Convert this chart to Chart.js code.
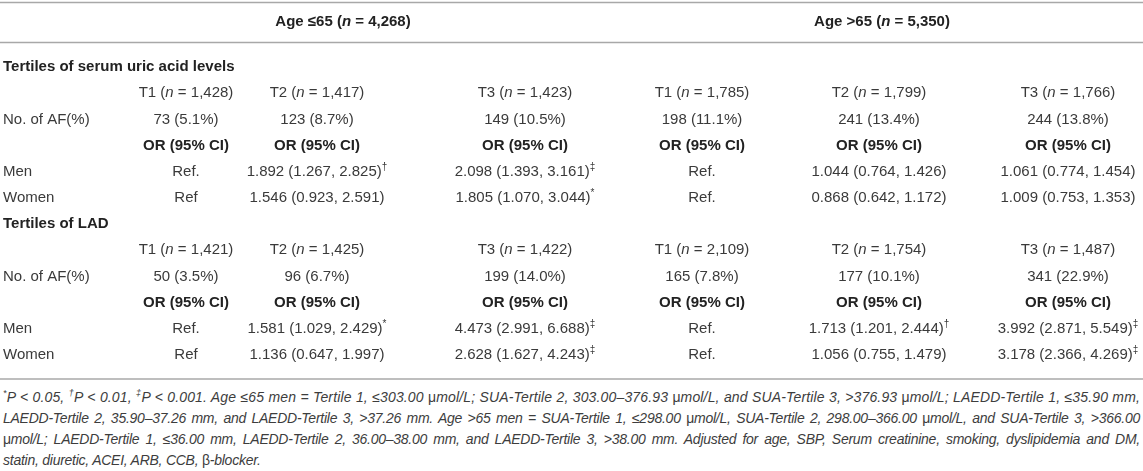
<!DOCTYPE html>
<html>
<head>
<meta charset="utf-8">
<script src="https://cdn.jsdelivr.net/npm/chart.js@4.4.1/dist/chart.umd.min.js"></script>
<style>
  html, body { margin: 0; padding: 0; background: #fff; }
  #wrap { width: 1143px; height: 471px; overflow: hidden; }
  canvas { display: block; }
  .foot { margin: 5px 3px 0 3px; font: italic 14px "Liberation Sans", Arial, sans-serif; letter-spacing: -0.25px; color: #3d3d3d; }
  .foot div { height: 21px; line-height: 21px; white-space: nowrap; text-align: justify; text-align-last: justify; }
  .foot div.first { letter-spacing: 0.15px; }
  .foot div.last { text-align-last: left; }
  .foot sup { font-size: 9px; line-height: 0; }
  .foot .up { font-style: normal; }
</style>
</head>
<body>
<div id="wrap">
  <canvas id="myTable" width="1143" height="382"></canvas>
  <div class="foot">
    <div class="first"><sup>*</sup>P &lt; 0.05, <sup>†</sup>P &lt; 0.01, <sup>‡</sup>P &lt; 0.001. Age ≤65 men = Tertile 1, ≤303.00 <span class="up">μ</span>mol/L; SUA-Tertile 2, 303.00–376.93 <span class="up">μ</span>mol/L, and SUA-Tertile 3, &gt;376.93 <span class="up">μ</span>mol/L; LAEDD-Tertile 1, ≤35.90 mm,</div>
    <div>LAEDD-Tertile 2, 35.90–37.26 mm, and LAEDD-Tertile 3, &gt;37.26 mm. Age &gt;65 men = SUA-Tertile 1, ≤298.00 <span class="up">μ</span>mol/L, SUA-Tertile 2, 298.00–366.00 <span class="up">μ</span>mol/L, and SUA-Tertile 3, &gt;366.00</div>
    <div><span class="up">μ</span>mol/L; LAEDD-Tertile 1, ≤36.00 mm, LAEDD-Tertile 2, 36.00–38.00 mm, and LAEDD-Tertile 3, &gt;38.00 mm. Adjusted for age, SBP, Serum creatinine, smoking, dyslipidemia and DM,</div>
    <div class="last">statin, diuretic, ACEI, ARB, CCB, <span class="up">β</span>-blocker.</div>
  </div>
</div>
<script>
// table values
var groupLabels = ['Age ≤65', 'Age >65'];
var groupN = ['4,268', '5,350'];
var sections = ['Tertiles of serum uric acid levels', 'Tertiles of LAD'];
var tertiles = ['T1', 'T2', 'T3', 'T1', 'T2', 'T3'];
var rowNames = ['No. of AF(%)', 'Men', 'Women'];

var suaN = ['1,428', '1,417', '1,423', '1,785', '1,799', '1,766'];
var suaAF = ['73 (5.1%)', '123 (8.7%)', '149 (10.5%)', '198 (11.1%)', '241 (13.4%)', '244 (13.8%)'];
var suaMen = ['Ref.', '1.892 (1.267, 2.825)', '2.098 (1.393, 3.161)', 'Ref.', '1.044 (0.764, 1.426)', '1.061 (0.774, 1.454)'];
var suaMenSig = ['', '†', '‡', '', '', ''];
var suaWomen = ['Ref', '1.546 (0.923, 2.591)', '1.805 (1.070, 3.044)', 'Ref.', '0.868 (0.642, 1.172)', '1.009 (0.753, 1.353)'];
var suaWomenSig = ['', '', '*', '', '', ''];

var ladN = ['1,421', '1,425', '1,422', '2,109', '1,754', '1,487'];
var ladAF = ['50 (3.5%)', '96 (6.7%)', '199 (14.0%)', '165 (7.8%)', '177 (10.1%)', '341 (22.9%)'];
var ladMen = ['Ref.', '1.581 (1.029, 2.429)', '4.473 (2.991, 6.688)', 'Ref.', '1.713 (1.201, 2.444)', '3.992 (2.871, 5.549)'];
var ladMenSig = ['', '*', '‡', '', '†', '‡'];
var ladWomen = ['Ref', '1.136 (0.647, 1.997)', '2.628 (1.627, 4.243)', 'Ref.', '1.056 (0.755, 1.479)', '3.178 (2.366, 4.269)'];
var ladWomenSig = ['', '', '‡', '', '', '‡'];

var orHead = 'OR (95% CI)';

// layout
var W = 1143;
var colX = [186, 317, 525, 702, 879, 1068];
var groupX = [343, 882];
var FONT = '"Liberation Sans", Arial, sans-serif';
var SIZE = 15;
var TXT = '#3a3a3a';
var BOLD_TXT = '#222';
var RULE = '#a8a8a8';

var rowKeys = ['secSUA', 'nSUA', 'afSUA', 'orSUA', 'menSUA', 'womenSUA',
               'secLAD', 'nLAD', 'afLAD', 'orLAD', 'menLAD', 'womenLAD'];

function segsN(t, n) {
    return [{t: t + ' ('}, {t: 'n', it: true}, {t: ' = ' + n + ')'}];
}
function segsSig(v, s) {
    var a = [{t: v}];
    if (s) a.push({t: s, sup: true});
    return a;
}

// one dataset per body row, one point per column
function rowSet(key, cells, bold) {
    return {
        rowKey: key,
        bold: !!bold,
        cells: cells,
        data: colX.map(function (x) { return {x: x, y: key}; }),
        pointRadius: 0,
        pointHoverRadius: 0
    };
}

var datasets = [
    rowSet('nSUA', suaN.map(function (n, i) { return segsN(tertiles[i], n); })),
    rowSet('afSUA', suaAF.map(function (v) { return [{t: v}]; })),
    rowSet('orSUA', colX.map(function () { return [{t: orHead}]; }), true),
    rowSet('menSUA', suaMen.map(function (v, i) { return segsSig(v, suaMenSig[i]); })),
    rowSet('womenSUA', suaWomen.map(function (v, i) { return segsSig(v, suaWomenSig[i]); })),
    rowSet('nLAD', ladN.map(function (n, i) { return segsN(tertiles[i], n); })),
    rowSet('afLAD', ladAF.map(function (v) { return [{t: v}]; })),
    rowSet('orLAD', colX.map(function () { return [{t: orHead}]; }), true),
    rowSet('menLAD', ladMen.map(function (v, i) { return segsSig(v, ladMenSig[i]); })),
    rowSet('womenLAD', ladWomen.map(function (v, i) { return segsSig(v, ladWomenSig[i]); }))
];

var leftLabels = {
    secSUA: sections[0], afSUA: rowNames[0], menSUA: rowNames[1], womenSUA: rowNames[2],
    secLAD: sections[1], afLAD: rowNames[0], menLAD: rowNames[1], womenLAD: rowNames[2]
};

function segFont(s, bold) {
    var size = s.sup ? 10 : SIZE;
    return (s.it ? 'italic ' : '') + (bold ? 'bold ' : '') + size + 'px ' + FONT;
}

function drawRich(ctx, segs, x, y, bold, align) {
    var total = 0;
    segs = segs.map(function (s) { return Object.assign({}, s); });
    segs.forEach(function (s) {
        ctx.font = segFont(s, bold);
        s.w = ctx.measureText(s.t).width;
        total += s.w;
    });
    var cx = align === 'left' ? x : x - total / 2;
    ctx.fillStyle = bold ? BOLD_TXT : TXT;
    segs.forEach(function (s) {
        ctx.font = segFont(s, bold);
        ctx.fillText(s.t, cx, s.sup ? y - 5 : y);
        cx += s.w;
    });
}

var tablePlugin = {
    id: 'tableText',
    afterDatasetsDraw: function (chart) {
        var ctx = chart.ctx;
        var area = chart.chartArea;
        var ys = chart.scales.y;
        ctx.save();
        ctx.textBaseline = 'middle';
        ctx.textAlign = 'left';

        // rules
        ctx.strokeStyle = RULE;
        ctx.lineWidth = 1.5;
        [2.5, 42.5, area.bottom + 11].forEach(function (ly) {
            ctx.beginPath();
            ctx.moveTo(0, ly);
            ctx.lineTo(W, ly);
            ctx.stroke();
        });

        // group headers
        groupLabels.forEach(function (g, i) {
            drawRich(ctx, segsN(g, groupN[i]), groupX[i], 22, true, 'center');
        });

        // left column
        rowKeys.forEach(function (k, i) {
            if (!leftLabels[k]) return;
            var bold = k.indexOf('sec') === 0;
            drawRich(ctx, [{t: leftLabels[k]}], area.left + 3, ys.getPixelForValue(i), bold, 'left');
        });

        // cells
        chart.data.datasets.forEach(function (ds, di) {
            var meta = chart.getDatasetMeta(di);
            meta.data.forEach(function (pt, i) {
                drawRich(ctx, ds.cells[i], pt.x, pt.y, ds.bold, 'center');
            });
        });
        ctx.restore();
    }
};

var ctx = document.getElementById('myTable').getContext('2d');
var table = new Chart(ctx, {
    type: 'scatter',
    data: { datasets: datasets },
    options: {
        responsive: false,
        animation: false,
        events: [],
        layout: { padding: { top: 54, bottom: 14, left: 0, right: 0 } },
        scales: {
            x: { type: 'linear', display: false, min: 0, max: W },
            y: { type: 'category', labels: rowKeys, display: false, offset: true }
        },
        plugins: {
            legend: { display: false },
            tooltip: { enabled: false }
        }
    },
    plugins: [tablePlugin]
});
</script>
</body>
</html>
